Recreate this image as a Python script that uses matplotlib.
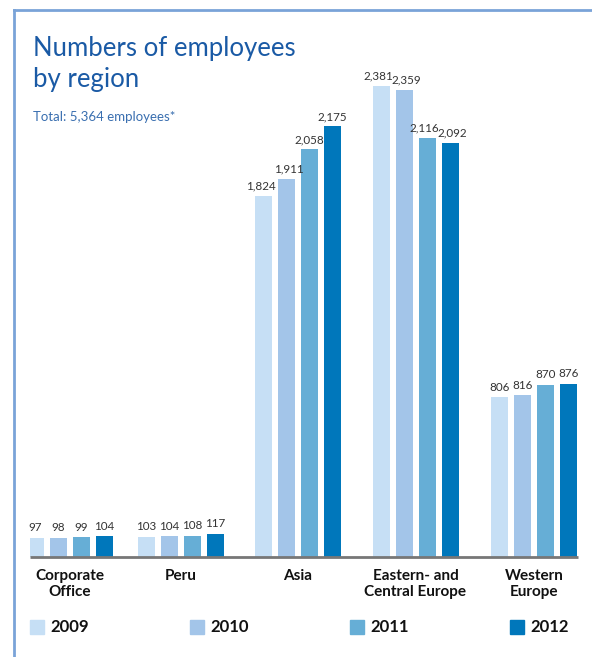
import numpy as np
import matplotlib.pyplot as plt
from matplotlib.lines import Line2D
from matplotlib.patches import Rectangle

plt.rcParams['font.family'] = ['Lato', 'DejaVu Sans']

# Datos
regions = ['Corporate\nOffice', 'Peru', 'Asia', 'Eastern- and\nCentral Europe', 'Western\nEurope']
years = ['2009', '2010', '2011', '2012']
v2009 = [97, 103, 1824, 2381, 806]
v2010 = [98, 104, 1911, 2359, 816]
v2011 = [99, 108, 2058, 2116, 870]
v2012 = [104, 117, 2175, 2092, 876]
series = [v2009, v2010, v2011, v2012]
colors = ['#c6dff5', '#a3c5e9', '#66aed6', '#0077bb']

W, H = 592, 657
fig = plt.figure(figsize=(W / 100, H / 100), dpi=100)

# Ejes en pixeles: base en y=557, de x=30 a x=578
ax = fig.add_axes([30 / W, 100 / H, 548 / W, 497 / H])
ax.set_xlim(30, 578)
ax.set_ylim(0, 2510)
ax.axis('off')

# centros de grupo (en pixeles)
centers = np.array([70, 180.5, 297.5, 415.5, 534])
width = 17
offsets = [-34.5, -11.5, 11.5, 34.5]
for k, (vals, col, off) in enumerate(zip(series, colors, offsets)):
    ax.bar(centers + off, vals, width=width, color=col)
    for g, (xi, v) in enumerate(zip(centers, vals)):
        # separar etiquetas vecinas de altura parecida
        pair = series[k ^ 1][g]
        dx = 0
        if v >= 1000 and abs(v - pair) < 100:
            dx = -2.5 if k % 2 == 0 else 2.5
        ax.text(xi + off + dx, v + 22, f'{v:,}', ha='center', va='bottom',
                fontsize=8.4, color='#333333')

# Linea base
ax.plot([30, 578], [0, 0], color='#777777', lw=2, solid_capstyle='butt', clip_on=False)

# Etiquetas de categoria
for xi, lab in zip(centers, regions):
    ax.text(xi, -60, lab, ha='center', va='top', fontsize=11, fontweight='bold',
            color='#111111', linespacing=1.2)

# Leyenda manual
leg_x = [30, 190, 350, 510]
for lx, col, yr in zip(leg_x, colors, years):
    fig.patches.append(Rectangle((lx / W, (H - 634) / H), 14 / W, 14 / H,
                                 transform=fig.transFigure, color=col))
    fig.text((lx + 20) / W, (H - 627) / H, yr, ha='left', va='center',
             fontsize=12, fontweight='bold', color='#111111')

# Titulo
fig.text(33 / W, (H - 36) / H, 'Numbers of employees\nby region', ha='left', va='top',
         fontsize=18.5, color='#1a5aa5', linespacing=1.3)
fig.text(33 / W, (H - 117) / H, 'Total: 5,364 employees*', ha='left', va='center',
         fontsize=9.5, color='#3a6fb0')

# Marco
fig.add_artist(Line2D([14 / W, 14 / W], [0, (H - 10) / H], color='#7aa3d8', lw=2,
                      transform=fig.transFigure))
fig.add_artist(Line2D([14 / W, 1], [(H - 10) / H, (H - 10) / H], color='#7aa3d8', lw=2,
                      transform=fig.transFigure))

fig.savefig('out.png', dpi=100)
